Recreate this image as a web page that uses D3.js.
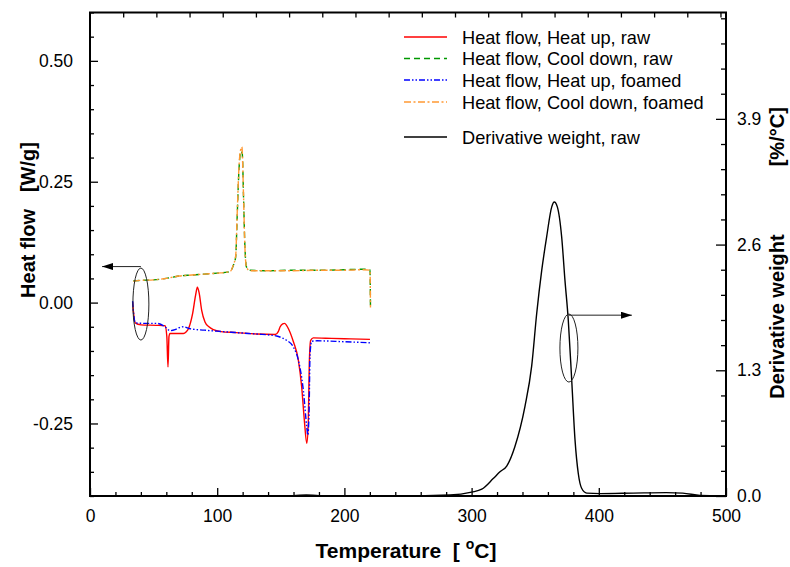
<!DOCTYPE html>
<html>
<head>
<meta charset="utf-8">
<script src="https://cdn.jsdelivr.net/npm/d3@7"></script>
<style>
  html, body { margin: 0; padding: 0; background: #fff; }
  svg { display: block; font-family: "Liberation Sans", Arial, sans-serif; }
  .pre { white-space: pre; }
</style>
</head>
<body>
<svg id="chart" width="790" height="567"></svg>
<script>
// ---- DSC heat flow (left axis) ----
const heatUpRawT = [33.5, 34.2, 35.5, 40, 52.4, 59, 60.4, 61.3, 62.1, 62.9, 70, 73.4, 75.5, 77.4, 80.5, 83, 84.4, 85.8, 87.8, 90.4, 93.5, 97, 103, 115, 131, 145.6, 148, 149.5, 151.5, 152.9, 154.5, 156, 159.9, 163.8, 166.4, 168.5, 170.4, 171.6, 172.4, 173.5, 175.6, 190, 205, 220.1];
const heatUpRawV = [0.001, -0.02, -0.042, -0.046, -0.047, -0.048, -0.07, -0.133, -0.07, -0.064, -0.064, -0.064, -0.061, -0.054, -0.025, 0.015, 0.032, 0.02, -0.016, -0.040, -0.050, -0.056, -0.060, -0.062, -0.065, -0.066, -0.060, -0.050, -0.044, -0.043, -0.047, -0.054, -0.081, -0.119, -0.174, -0.243, -0.291, -0.250, -0.126, -0.078, -0.073, -0.074, -0.075, -0.076];

const coolDownRawT = [34, 40, 50, 60, 70, 80, 90, 100, 108, 110.1, 112.7, 114.5, 115.8, 117.1, 118.6, 119.7, 120.7, 121.7, 123, 125.8, 140, 160, 180, 200, 215, 220.1, 220.5];
const coolDownRawV = [0.045, 0.046, 0.047, 0.050, 0.055, 0.057, 0.059, 0.061, 0.063, 0.064, 0.077, 0.094, 0.185, 0.274, 0.313, 0.308, 0.218, 0.122, 0.074, 0.067, 0.066, 0.067, 0.067, 0.068, 0.069, 0.068, -0.009];

const heatUpFoamT = [33.5, 34.2, 35.5, 45, 52.4, 59, 62.9, 66.8, 70, 73.4, 78.6, 90, 104.8, 120, 131, 146.7, 151, 154.6, 159.9, 163.8, 167.7, 170.4, 171.2, 172.2, 173, 174.3, 178.6, 200, 220];
const heatUpFoamV = [0.003, -0.02, -0.042, -0.043, -0.043, -0.050, -0.058, -0.056, -0.052, -0.050, -0.054, -0.057, -0.060, -0.063, -0.065, -0.069, -0.073, -0.078, -0.092, -0.119, -0.181, -0.257, -0.274, -0.229, -0.105, -0.080, -0.079, -0.081, -0.083];

const coolDownFoamT = [34, 40, 50, 60, 70, 80, 90, 100, 108, 110.1, 112.7, 114.5, 115.8, 117.1, 118.6, 119.4, 120.7, 121.7, 123, 125.8, 140, 160, 180, 200, 215, 220.1, 220.5];
const coolDownFoamV = [0.044, 0.046, 0.047, 0.050, 0.055, 0.057, 0.059, 0.061, 0.063, 0.064, 0.078, 0.096, 0.19, 0.28, 0.318, 0.322, 0.22, 0.12, 0.073, 0.066, 0.066, 0.066, 0.067, 0.067, 0.068, 0.067, -0.010];

// ---- TGA derivative weight (right axis) ----
const derivT = [30, 100, 160, 170, 180, 243.7, 283, 300, 308, 317, 322.3, 327.6, 334, 342, 347.2, 351.2, 355.1, 359, 363, 365, 367.4, 370.8, 373.4, 376, 378.7, 381.3, 383.9, 386.5, 390.5, 401, 427, 453, 466, 479.6, 495, 500];
const derivV = [0.004, 0.003, 0.004, 0.012, 0.004, 0.0, 0.01, 0.04, 0.07, 0.18, 0.25, 0.31, 0.51, 0.93, 1.34, 1.89, 2.33, 2.68, 2.99, 3.04, 2.99, 2.68, 2.23, 1.82, 1.20, 0.58, 0.23, 0.08, 0.03, 0.025, 0.03, 0.035, 0.03, 0.005, 0.0, 0.0];

// ---- axes ----
const xDomain = [0, 500];
const xMajorTicks = [0, 100, 200, 300, 400, 500];
const xMinorStep = 20;
const heatDomain = [-0.4, 0.6];
const heatMajorTicks = [-0.25, 0.0, 0.25, 0.50];
const heatMinorStep = 0.05;
const derivDomain = [0, 5.0];
const derivMajorTicks = [0.0, 1.3, 2.6, 3.9];
const derivMinorStep = 0.26;
const topDomain = [0, 575];
const topTickStep = 30;

const legendLabels = ["Heat flow, Heat up, raw", "Heat flow, Cool down, raw", "Heat flow, Heat up, foamed", "Heat flow, Cool down, foamed", "Derivative weight, raw"];

// ---- layout ----
const svg = d3.select("#chart");
const L = 90, R = 726, T = 12.5, B = 496;

const x = d3.scaleLinear().domain(xDomain).range([L, R]);
const xTop = d3.scaleLinear().domain(topDomain).range([L, R]);
const yHeat = d3.scaleLinear().domain(heatDomain).range([B, T]);
const yDeriv = d3.scaleLinear().domain(derivDomain).range([B, T]);

const seq = (a, b, s) => d3.range(Math.round((b - a) / s) + 1).map(i => +(a + i * s).toFixed(6));
const hyphenFmt = f => v => d3.format(f)(v).replace("\u2212", "-");

// clip for curves
const defs = svg.append("defs");
defs.append("clipPath").attr("id", "plotclip")
  .append("rect").attr("x", L).attr("y", T).attr("width", R - L).attr("height", B - T);

// arrow marker
defs.append("marker")
  .attr("id", "arrowhead").attr("viewBox", "0 0 11 7")
  .attr("refX", 11).attr("refY", 3.5)
  .attr("markerWidth", 11).attr("markerHeight", 7)
  .attr("markerUnits", "userSpaceOnUse").attr("orient", "auto")
  .append("path").attr("d", "M0,0 L11,3.5 L0,7 Z").attr("fill", "#000");

const tickFont = 17.5;

// bottom axis
svg.append("g").attr("transform", `translate(0,${B})`)
  .call(d3.axisBottom(x).tickValues(xMajorTicks).tickSize(-8).tickPadding(14).tickFormat(d3.format("d")));
svg.append("g").attr("transform", `translate(0,${B})`)
  .call(d3.axisBottom(x).tickValues(seq(0, 500, xMinorStep).filter(v => v % 100 !== 0)).tickSize(-4).tickFormat(""));

// top axis (ticks only)
svg.append("g").attr("transform", `translate(0,${T})`)
  .call(d3.axisTop(xTop).tickValues(seq(topTickStep, 570, topTickStep)).tickSize(-5).tickFormat(""));

// left axis
svg.append("g").attr("transform", `translate(${L},0)`)
  .call(d3.axisLeft(yHeat).tickValues(heatMajorTicks).tickSize(-8).tickPadding(17).tickFormat(hyphenFmt(".2f")));
svg.append("g").attr("transform", `translate(${L},0)`)
  .call(d3.axisLeft(yHeat).tickValues(seq(-0.4, 0.6, heatMinorStep).filter(v => !heatMajorTicks.some(m => Math.abs(m - v) < 1e-6))).tickSize(-4).tickFormat(""));

// right axis
svg.append("g").attr("transform", `translate(${R},0)`)
  .call(d3.axisRight(yDeriv).tickValues(derivMajorTicks).tickSize(-10).tickPadding(11).tickFormat(d3.format(".1f")));
svg.append("g").attr("transform", `translate(${R},0)`)
  .call(d3.axisRight(yDeriv).tickValues(seq(0, 4.94, derivMinorStep).filter(v => !derivMajorTicks.some(m => Math.abs(m - v) < 1e-6))).tickSize(-5).tickFormat(""));

svg.selectAll(".domain").remove();
svg.selectAll(".tick line").attr("stroke", "#000").attr("stroke-width", 1.3);
svg.selectAll(".tick text").attr("font-size", tickFont).attr("fill", "#000")
  .attr("font-family", "Liberation Sans, Arial, sans-serif");

// frame
svg.append("rect").attr("x", L).attr("y", T).attr("width", R - L).attr("height", B - T)
  .attr("fill", "none").attr("stroke", "#000").attr("stroke-width", 2);

// axis titles
const xt = svg.append("text").attr("class", "pre").attr("x", 406).attr("y", 558).attr("text-anchor", "middle")
  .attr("font-size", 21).attr("font-weight", "bold");
xt.append("tspan").text("Temperature  [ ");
xt.append("tspan").attr("font-size", 14).attr("dy", -9).text("o");
xt.append("tspan").attr("dy", 9).text("C]");

const yl = svg.append("text").attr("transform", "translate(35,220) rotate(-90)").attr("text-anchor", "middle")
  .attr("font-size", 20).attr("font-weight", "bold");
yl.append("tspan").text("Heat flow");
yl.append("tspan").attr("dx", 17).text("[W/g]");

const yr = svg.append("text").attr("transform", "translate(784,253) rotate(-90)").attr("text-anchor", "middle")
  .attr("font-size", 20).attr("font-weight", "bold");
yr.append("tspan").text("Derivative weight");
yr.append("tspan").attr("dx", 68).text("[%/°C]");

// curves
const series = [
  { T: heatUpRawT, V: heatUpRawV, y: yHeat, color: "#ff0000", dash: null },
  { T: coolDownRawT, V: coolDownRawV, y: yHeat, color: "#009900", dash: "6,4" },
  { T: heatUpFoamT, V: heatUpFoamV, y: yHeat, color: "#0000ff", dash: "6,2,1.5,2,1.5,2" },
  { T: coolDownFoamT, V: coolDownFoamV, y: yHeat, color: "#ff9933", dash: "7,2.5,2,2.5" },
  { T: derivT, V: derivV, y: yDeriv, color: "#000000", dash: null }
];
const plot = svg.append("g").attr("clip-path", "url(#plotclip)");
series.forEach(s => {
  const line = d3.line().x(d => x(d[0])).y(d => s.y(d[1])).curve(d3.curveMonotoneX);
  plot.append("path").datum(d3.zip(s.T, s.V)).attr("d", line)
    .attr("fill", "none").attr("stroke", s.color).attr("stroke-width", 1.4)
    .attr("stroke-dasharray", s.dash).attr("stroke-linejoin", "round");
});

// annotations: ellipses with arrows pointing to the relevant axis
const ann = svg.append("g").attr("fill", "none").attr("stroke", "#222").attr("stroke-width", 1);
ann.append("ellipse").attr("cx", x(40)).attr("cy", yHeat(-0.003)).attr("rx", 8).attr("ry", 36);
ann.append("line").attr("x1", x(40)).attr("y1", yHeat(0.0745)).attr("x2", x(9.5)).attr("y2", yHeat(0.0745))
  .attr("marker-end", "url(#arrowhead)");
ann.append("ellipse").attr("cx", x(376.5)).attr("cy", yDeriv(1.53)).attr("rx", 9).attr("ry", 34);
ann.append("line").attr("x1", x(376.5)).attr("y1", yDeriv(1.87)).attr("x2", x(426)).attr("y2", yDeriv(1.87))
  .attr("marker-end", "url(#arrowhead)");

// legend
const lg = svg.append("g");
const rowsY = [37, 58.5, 80, 102, 137];
legendLabels.forEach((lab, i) => {
  const s = series[i];
  lg.append("line").attr("x1", 404).attr("x2", 447).attr("y1", rowsY[i]).attr("y2", rowsY[i])
    .attr("stroke", s.color).attr("stroke-width", 1.4).attr("stroke-dasharray", s.dash);
  lg.append("text").attr("x", 462).attr("y", rowsY[i] + 6.5).attr("font-size", 18.2).attr("fill", "#000").text(lab);
});
</script>
</body>
</html>
